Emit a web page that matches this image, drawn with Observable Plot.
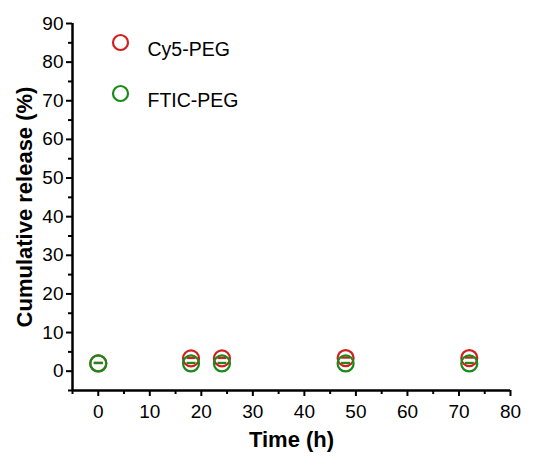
<!DOCTYPE html>
<html><head><meta charset="utf-8">
<script src="https://cdn.jsdelivr.net/npm/d3@7"></script>
<script src="https://cdn.jsdelivr.net/npm/@observablehq/plot@0.6"></script>
<style>body{margin:0;background:#fff;font-family:"Liberation Sans",Arial,sans-serif}</style>
</head><body><div id="chart"></div>
<script>
const times = [0, 18, 24, 48, 72];
const cy5 = [2.0, 3.3, 3.3, 3.4, 3.4];
const ftic = [2.0, 2.0, 2.0, 2.0, 2.0];
const err = [0.3, 0.3, 0.3, 0.3, 0.3];
const seriesNames = ["Cy5-PEG", "FTIC-PEG"];
const seriesColors = ["#d02020", "#1a8a1a"];
const xMajor = [0,10,20,30,40,50,60,70,80];
const xMinor = [-5,5,15,25,35,45,55,65,75];
const yMajor = [0,10,20,30,40,50,60,70,80,90];
const yMinor = [-5,5,15,25,35,45,55,65,75,85];

const data = [];
times.forEach((t,i)=>{
  data.push({t, v: cy5[i], e: err[i], s: seriesNames[0]});
  data.push({t, v: ftic[i], e: err[i], s: seriesNames[1]});
});
const order = [...data.filter(d=>d.s===seriesNames[0]), ...data.filter(d=>d.s===seriesNames[1])];

const legendMarks = seriesNames.flatMap((s, i) => [
  Plot.dot([s], {frameAnchor: "top-left", dx: 48, dy: 19 + i * 51, stroke: d => d, r: 7.5, strokeWidth: 2.2, fill: "none"}),
  Plot.text([s], {frameAnchor: "top-left", dx: 75, dy: 19 + i * 51, text: d => d, textAnchor: "start", fontSize: 19.5, fill: "#000"})
]);

const chart = Plot.plot({
  width: 543, height: 457,
  marginLeft: 72, marginRight: 33, marginTop: 23, marginBottom: 67,
  style: {fontFamily: '"Liberation Sans", Arial, sans-serif', fontSize: "19px", color: "#000", background: "#fff"},
  x: {domain: [-5, 80], label: null},
  y: {domain: [-5, 90], label: null},
  color: {domain: seriesNames, range: seriesColors},
  marks: [
    Plot.axisX(xMajor, {tickSize: 6, tickPadding: 8, fontSize: 19, strokeWidth: 2, label: null}),
    Plot.axisX(xMinor, {tickSize: 4, tickFormat: () => "", strokeWidth: 2, label: null}),
    Plot.axisY(yMajor, {tickSize: 6, tickPadding: 3, fontSize: 19, strokeWidth: 2, label: null}),
    Plot.axisY(yMinor, {tickSize: 4, tickFormat: () => "", strokeWidth: 2, label: null}),
    Plot.ruleX([-5], {stroke: "#000", strokeWidth: 2.5}),
    Plot.ruleY([-5], {stroke: "#000", strokeWidth: 2.5}),
    Plot.ruleX(order, {x: "t", y1: d => d.v - d.e, y2: d => d.v + d.e, stroke: "s", strokeWidth: 9}),
    Plot.dot(order, {x: "t", y: "v", stroke: "s", r: 8, strokeWidth: 2.2, fill: "none"}),
    ...legendMarks,
    Plot.text(["Time (h)"], {frameAnchor: "bottom", dy: 56, text: d => d, fontSize: 22, fontWeight: "bold", fill: "#000"}),
    Plot.text(["Cumulative release (%)"], {frameAnchor: "left", dx: -48, rotate: -90, textAnchor: "middle", text: d => d, fontSize: 22, fontWeight: "bold", fill: "#000"})
  ]
});
document.getElementById("chart").appendChild(chart);
</script></body></html>
